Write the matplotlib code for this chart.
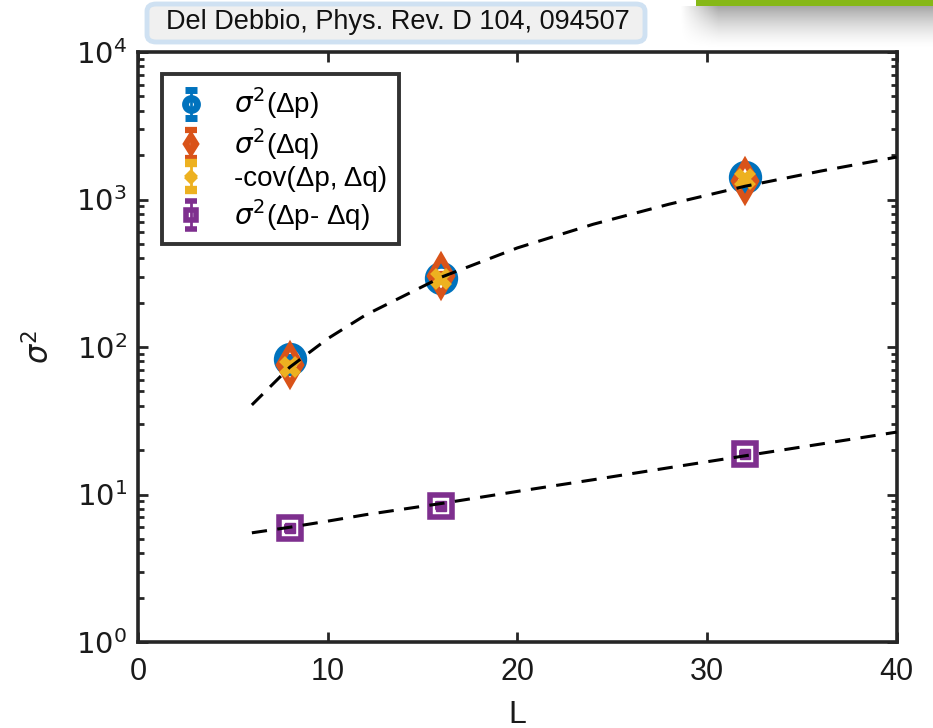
import numpy as np
import matplotlib
matplotlib.use('Agg')
import matplotlib.pyplot as plt
from matplotlib.patches import FancyBboxPatch, Rectangle

# lattice sizes and variances
L = [8, 16, 32]
var_p = [83, 295, 1420]
var_q = [76, 305, 1330]
neg_cov = [73, 290, 1370]
var_pq = [5.9, 8.4, 18.8]

err_p = [2, 6, 30]
err_q = [2, 6, 30]
err_cov = [2, 6, 30]
err_pq = [0.15, 0.2, 0.4]

# dashed fit curves
fit_L = [6, 8, 10, 12, 16, 20, 24, 28, 32, 36, 40]
fit_upper = [40.5, 73, 114, 165, 298, 470, 680, 930, 1230, 1560, 1940]
fit_lower = [5.5, 6.0, 6.6, 7.3, 8.7, 10.5, 12.6, 15.2, 18.3, 22.0, 26.5]

citation = 'Del Debbio, Phys. Rev. D 104, 094507'

blue = '#0072BD'
orange = '#D95319'
yellow = '#EDB120'
purple = '#7E2F8E'
axcol = '#262626'

plt.rcParams['font.family'] = ['Liberation Sans', 'DejaVu Sans']
plt.rcParams['mathtext.fontset'] = 'dejavusans'

fig = plt.figure(figsize=(9.33, 7.28), dpi=100)
ax = fig.add_axes([0.148, 0.1181, 0.813, 0.8104])

ax.errorbar(L, var_p, yerr=err_p, fmt='o', color=blue, ms=19, mfc='none', mew=5,
            capsize=4, elinewidth=2, label=r'$\sigma^2$(Δp)', zorder=2)
ax.errorbar(L, var_q, yerr=err_q, fmt='d', color=orange, ms=19, mfc='none', mew=4.5,
            capsize=4, elinewidth=2, label=r'$\sigma^2$(Δq)', zorder=3)
ax.errorbar(L, neg_cov, yerr=err_cov, fmt='x', color=yellow, ms=12, mew=6,
            capsize=4, elinewidth=2, label='-cov(Δp, Δq)', zorder=4)
ax.errorbar(L, var_pq, yerr=err_pq, fmt='s', color=purple, ms=16, mfc='none', mew=4,
            capsize=4, elinewidth=2, label=r'$\sigma^2$(Δp- Δq)', zorder=3)
ax.plot(L, var_pq, 's', color=purple, ms=7, zorder=3)

ax.plot(fit_L, fit_upper, color='black', lw=2.2, ls=(0, (5, 3.4)), zorder=5)
ax.plot(fit_L, fit_lower, color='black', lw=2.2, ls=(0, (5, 3.4)), zorder=5)

ax.set_yscale('log')
ax.set_xlim(0, 40)
ax.set_ylim(1, 1e4)
ax.set_xticks([0, 10, 20, 30, 40])
ax.set_yticks([1, 10, 100, 1000, 10000])
ax.set_yticklabels([r'$10^{%d}$' % k for k in range(5)])
ax.tick_params(which='both', direction='in', top=True, right=True,
               color=axcol, width=2, labelcolor='#1a1a1a')
ax.tick_params(axis='x', labelsize=22, pad=11)
ax.tick_params(axis='y', labelsize=21, pad=8)
ax.tick_params(which='major', length=7)
ax.tick_params(which='minor', length=4)
for s in ax.spines.values():
    s.set_linewidth(2.6)
    s.set_color(axcol)

ax.set_xlabel('L', fontsize=23, color='#1a1a1a', labelpad=9)
ax.set_ylabel(r'$\sigma^2$', fontsize=22, color='#1a1a1a', labelpad=14)

leg = ax.legend(loc='upper left', bbox_to_anchor=(0.0316, 0.962), borderaxespad=0,
                fancybox=False, markerscale=0.45, fontsize=20, handlelength=1.3,
                handletextpad=0.9, labelspacing=0.16, borderpad=0.4)
leg.get_frame().set_edgecolor('black')
leg.get_frame().set_linewidth(2.8)

# citation banner
fig.patches.append(FancyBboxPatch((147 / 933, 1 - 42 / 728), 498 / 933, 38 / 728,
                                  boxstyle='round,pad=0,rounding_size=0.01',
                                  transform=fig.transFigure, facecolor='#f0f0f0',
                                  edgecolor='#cfe1f2', linewidth=3.5))
fig.text(398 / 933, 1 - 22 / 728, citation, ha='center', va='center',
         fontsize=19.5, color='#111111')

# green bar with soft shadow in the top right corner
shade = fig.add_axes([680 / 933, 1 - 50 / 728, 253 / 933, 44 / 728])
gy = np.linspace(0, 1, 60)[:, None]
gx = np.clip(np.linspace(0, 1, 200)[None, :] / 0.15, 0, 1)
alpha = (1 - gy) ** 1.6 * gx * 0.35
img = np.zeros((60, 200, 4))
img[..., 3] = alpha
shade.imshow(img, aspect='auto', extent=[0, 1, 0, 1], origin='upper')
shade.axis('off')
fig.patches.append(Rectangle((696 / 933, 1 - 6 / 728), 237 / 933, 6 / 728,
                             transform=fig.transFigure, facecolor='#86b817',
                             edgecolor='none'))

fig.savefig('out.png', dpi=100)
